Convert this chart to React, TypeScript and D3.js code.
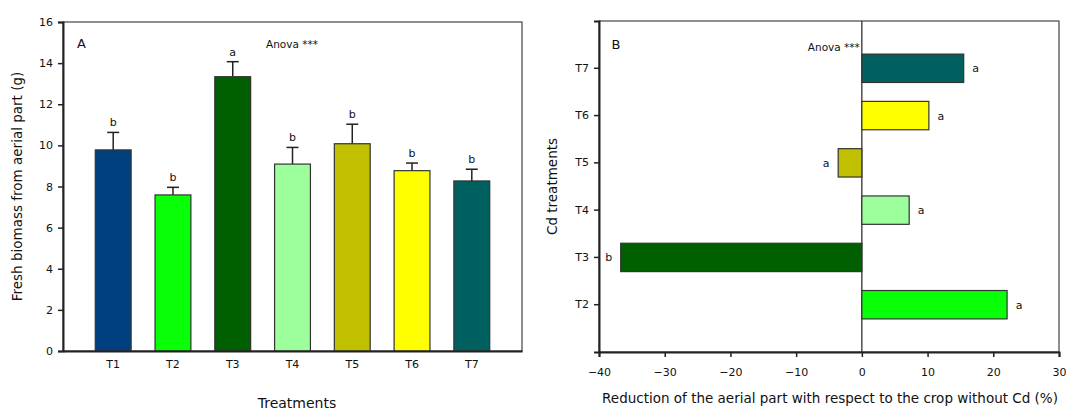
import React, { useEffect, useRef } from 'react'
import * as d3 from 'd3'

const treatments = ['T1', 'T2', 'T3', 'T4', 'T5', 'T6', 'T7']
const biomass = [9.78, 7.59, 13.34, 9.09, 10.08, 8.77, 8.27]
const biomassErr = [0.85, 0.37, 0.73, 0.81, 0.95, 0.37, 0.57]
const biomassLetters = ['b', 'b', 'a', 'b', 'b', 'b', 'b']
const fills = ['#00407f', '#08ff08', '#005f00', '#9cff9c', '#c0c000', '#ffff00', '#006060']
const biomassTicks = [0, 2, 4, 6, 8, 10, 12, 14, 16]

const cdTreatments = ['T2', 'T3', 'T4', 'T5', 'T6', 'T7']
const reduction = [22.1, -36.7, 7.2, -3.6, 10.2, 15.5]
const reductionLetters = ['a', 'b', 'a', 'a', 'a', 'a']
const reductionTicks = [-40, -30, -20, -10, 0, 10, 20, 30]

const FONT = 'DejaVu Sans, Verdana, sans-serif'

export default function App() {
  const ref = useRef<SVGSVGElement>(null)

  useEffect(() => {
    const svg = d3.select(ref.current)
    svg.selectAll('*').remove()

    // ---------- panel A ----------
    const a = { left: 63, right: 522, top: 22, bottom: 351 }
    const xA = d3.scaleBand().domain(treatments).range([a.left, a.right])
      .paddingInner(0.4).paddingOuter(0.54)
    const yA = d3.scaleLinear().domain([0, 16]).range([a.bottom, a.top])
    const gA = svg.append('g')

    gA.append('rect')
      .attr('x', a.left).attr('y', a.top)
      .attr('width', a.right - a.left).attr('height', a.bottom - a.top)
      .attr('fill', 'none').attr('stroke', '#444').attr('stroke-width', 1.2)

    const barsA = gA.selectAll('.bar').data(treatments).enter().append('g')
    barsA.append('line')
      .attr('x1', (d) => xA(d)! + xA.bandwidth() / 2)
      .attr('x2', (d) => xA(d)! + xA.bandwidth() / 2)
      .attr('y1', (_, i) => yA(biomass[i]))
      .attr('y2', (_, i) => yA(biomass[i] + biomassErr[i]))
      .attr('stroke', '#222').attr('stroke-width', 1.5)
    barsA.append('line')
      .attr('x1', (d) => xA(d)! + xA.bandwidth() / 2 - 6)
      .attr('x2', (d) => xA(d)! + xA.bandwidth() / 2 + 6)
      .attr('y1', (_, i) => yA(biomass[i] + biomassErr[i]))
      .attr('y2', (_, i) => yA(biomass[i] + biomassErr[i]))
      .attr('stroke', '#222').attr('stroke-width', 1.5)
    barsA.append('rect')
      .attr('x', (d) => xA(d)!)
      .attr('y', (_, i) => yA(biomass[i]))
      .attr('width', xA.bandwidth())
      .attr('height', (_, i) => yA(0) - yA(biomass[i]))
      .attr('fill', (_, i) => fills[i])
      .attr('stroke', '#333').attr('stroke-width', 1.2)
    barsA.append('text')
      .attr('x', (d) => xA(d)! + xA.bandwidth() / 2)
      .attr('y', (_, i) => yA(biomass[i] + biomassErr[i]) - 6)
      .attr('text-anchor', 'middle')
      .attr('font-size', 11)
      .text((_, i) => biomassLetters[i])

    // axes
    const axisLeftA = gA.append('g')
      .attr('transform', `translate(${a.left},0)`)
      .call(d3.axisLeft(yA).tickValues(biomassTicks).tickSize(5).tickPadding(5))
    const axisBottomA = gA.append('g')
      .attr('transform', `translate(0,${a.bottom})`)
      .call(d3.axisBottom(xA).tickSize(0).tickPadding(9))
    for (const ax of [axisLeftA, axisBottomA]) {
      ax.select('.domain').attr('stroke', '#222').attr('stroke-width', 2)
      ax.selectAll('line').attr('stroke', '#222').attr('stroke-width', 1.5)
      ax.selectAll('text').attr('font-size', 11).attr('font-family', FONT).attr('fill', '#111')
    }

    gA.append('text').attr('x', 77).attr('y', 48).attr('font-size', 13).text('A')
    gA.append('text').attr('x', 266).attr('y', 48).attr('font-size', 10.5).text('Anova ***')
    gA.append('text')
      .attr('transform', `translate(22,${(a.top + a.bottom) / 2}) rotate(-90)`)
      .attr('text-anchor', 'middle').attr('font-size', 13.5)
      .text('Fresh biomass from aerial part (g)')
    gA.append('text')
      .attr('x', 297).attr('y', 408)
      .attr('text-anchor', 'middle').attr('font-size', 14)
      .text('Treatments')

    // ---------- panel B ----------
    const b = { left: 599, right: 1059, top: 21, bottom: 352 }
    const xB = d3.scaleLinear().domain([-40, 30]).range([b.left, b.right])
    const yB = d3.scaleBand().domain(cdTreatments).range([b.bottom, b.top])
      .paddingInner(0.4).paddingOuter(0.7)
    const gB = svg.append('g')

    gB.append('rect')
      .attr('x', b.left).attr('y', b.top)
      .attr('width', b.right - b.left).attr('height', b.bottom - b.top)
      .attr('fill', 'none').attr('stroke', '#444').attr('stroke-width', 1.2)

    gB.append('line')
      .attr('x1', xB(0)).attr('x2', xB(0))
      .attr('y1', b.top).attr('y2', b.bottom)
      .attr('stroke', '#222').attr('stroke-width', 1.2)

    const barsB = gB.selectAll('.bar').data(cdTreatments).enter().append('g')
    barsB.append('rect')
      .attr('x', (_, i) => xB(Math.min(0, reduction[i])))
      .attr('y', (d) => yB(d)!)
      .attr('width', (_, i) => Math.abs(xB(reduction[i]) - xB(0)))
      .attr('height', yB.bandwidth())
      .attr('fill', (d) => fills[treatments.indexOf(d)])
      .attr('stroke', '#333').attr('stroke-width', 1.2)
    barsB.append('text')
      .attr('x', (_, i) => xB(reduction[i]) + (reduction[i] < 0 ? -12 : 12))
      .attr('y', (d) => yB(d)! + yB.bandwidth() / 2 + 4)
      .attr('text-anchor', 'middle')
      .attr('font-size', 11)
      .text((_, i) => reductionLetters[i])

    const axisLeftB = gB.append('g')
      .attr('transform', `translate(${b.left},0)`)
      .call(d3.axisLeft(yB).tickSize(5).tickPadding(5))
    const axisBottomB = gB.append('g')
      .attr('transform', `translate(0,${b.bottom})`)
      .call(d3.axisBottom(xB).tickValues(reductionTicks).tickSize(5).tickPadding(11)
        .tickFormat((d) => (+d < 0 ? '\u2212' + Math.abs(+d) : String(d))))
    for (const ax of [axisLeftB, axisBottomB]) {
      ax.select('.domain').attr('stroke', '#222').attr('stroke-width', 2)
      ax.selectAll('line').attr('stroke', '#222').attr('stroke-width', 1.5)
      ax.selectAll('text').attr('font-size', 11).attr('font-family', FONT).attr('fill', '#111')
    }

    gB.append('text').attr('x', 616).attr('y', 49).attr('text-anchor', 'middle')
      .attr('font-size', 13).text('B')
    gB.append('text').attr('x', xB(0) - 2).attr('y', 51).attr('text-anchor', 'end')
      .attr('font-size', 10.5).text('Anova ***')
    gB.append('text')
      .attr('transform', `translate(557,${(b.top + b.bottom) / 2}) rotate(-90)`)
      .attr('text-anchor', 'middle').attr('font-size', 13.5)
      .text('Cd treatments')
    gB.append('text')
      .attr('x', 830).attr('y', 403)
      .attr('text-anchor', 'middle').attr('font-size', 13.5)
      .text('Reduction of the aerial part with respect to the crop without Cd (%)')
  }, [])

  return (
    <svg
      ref={ref}
      width={1066}
      height={412}
      style={{ position: 'absolute', left: 0, top: 0, background: '#fff' }}
      fontFamily={FONT}
      fill="#111"
    />
  )
}
